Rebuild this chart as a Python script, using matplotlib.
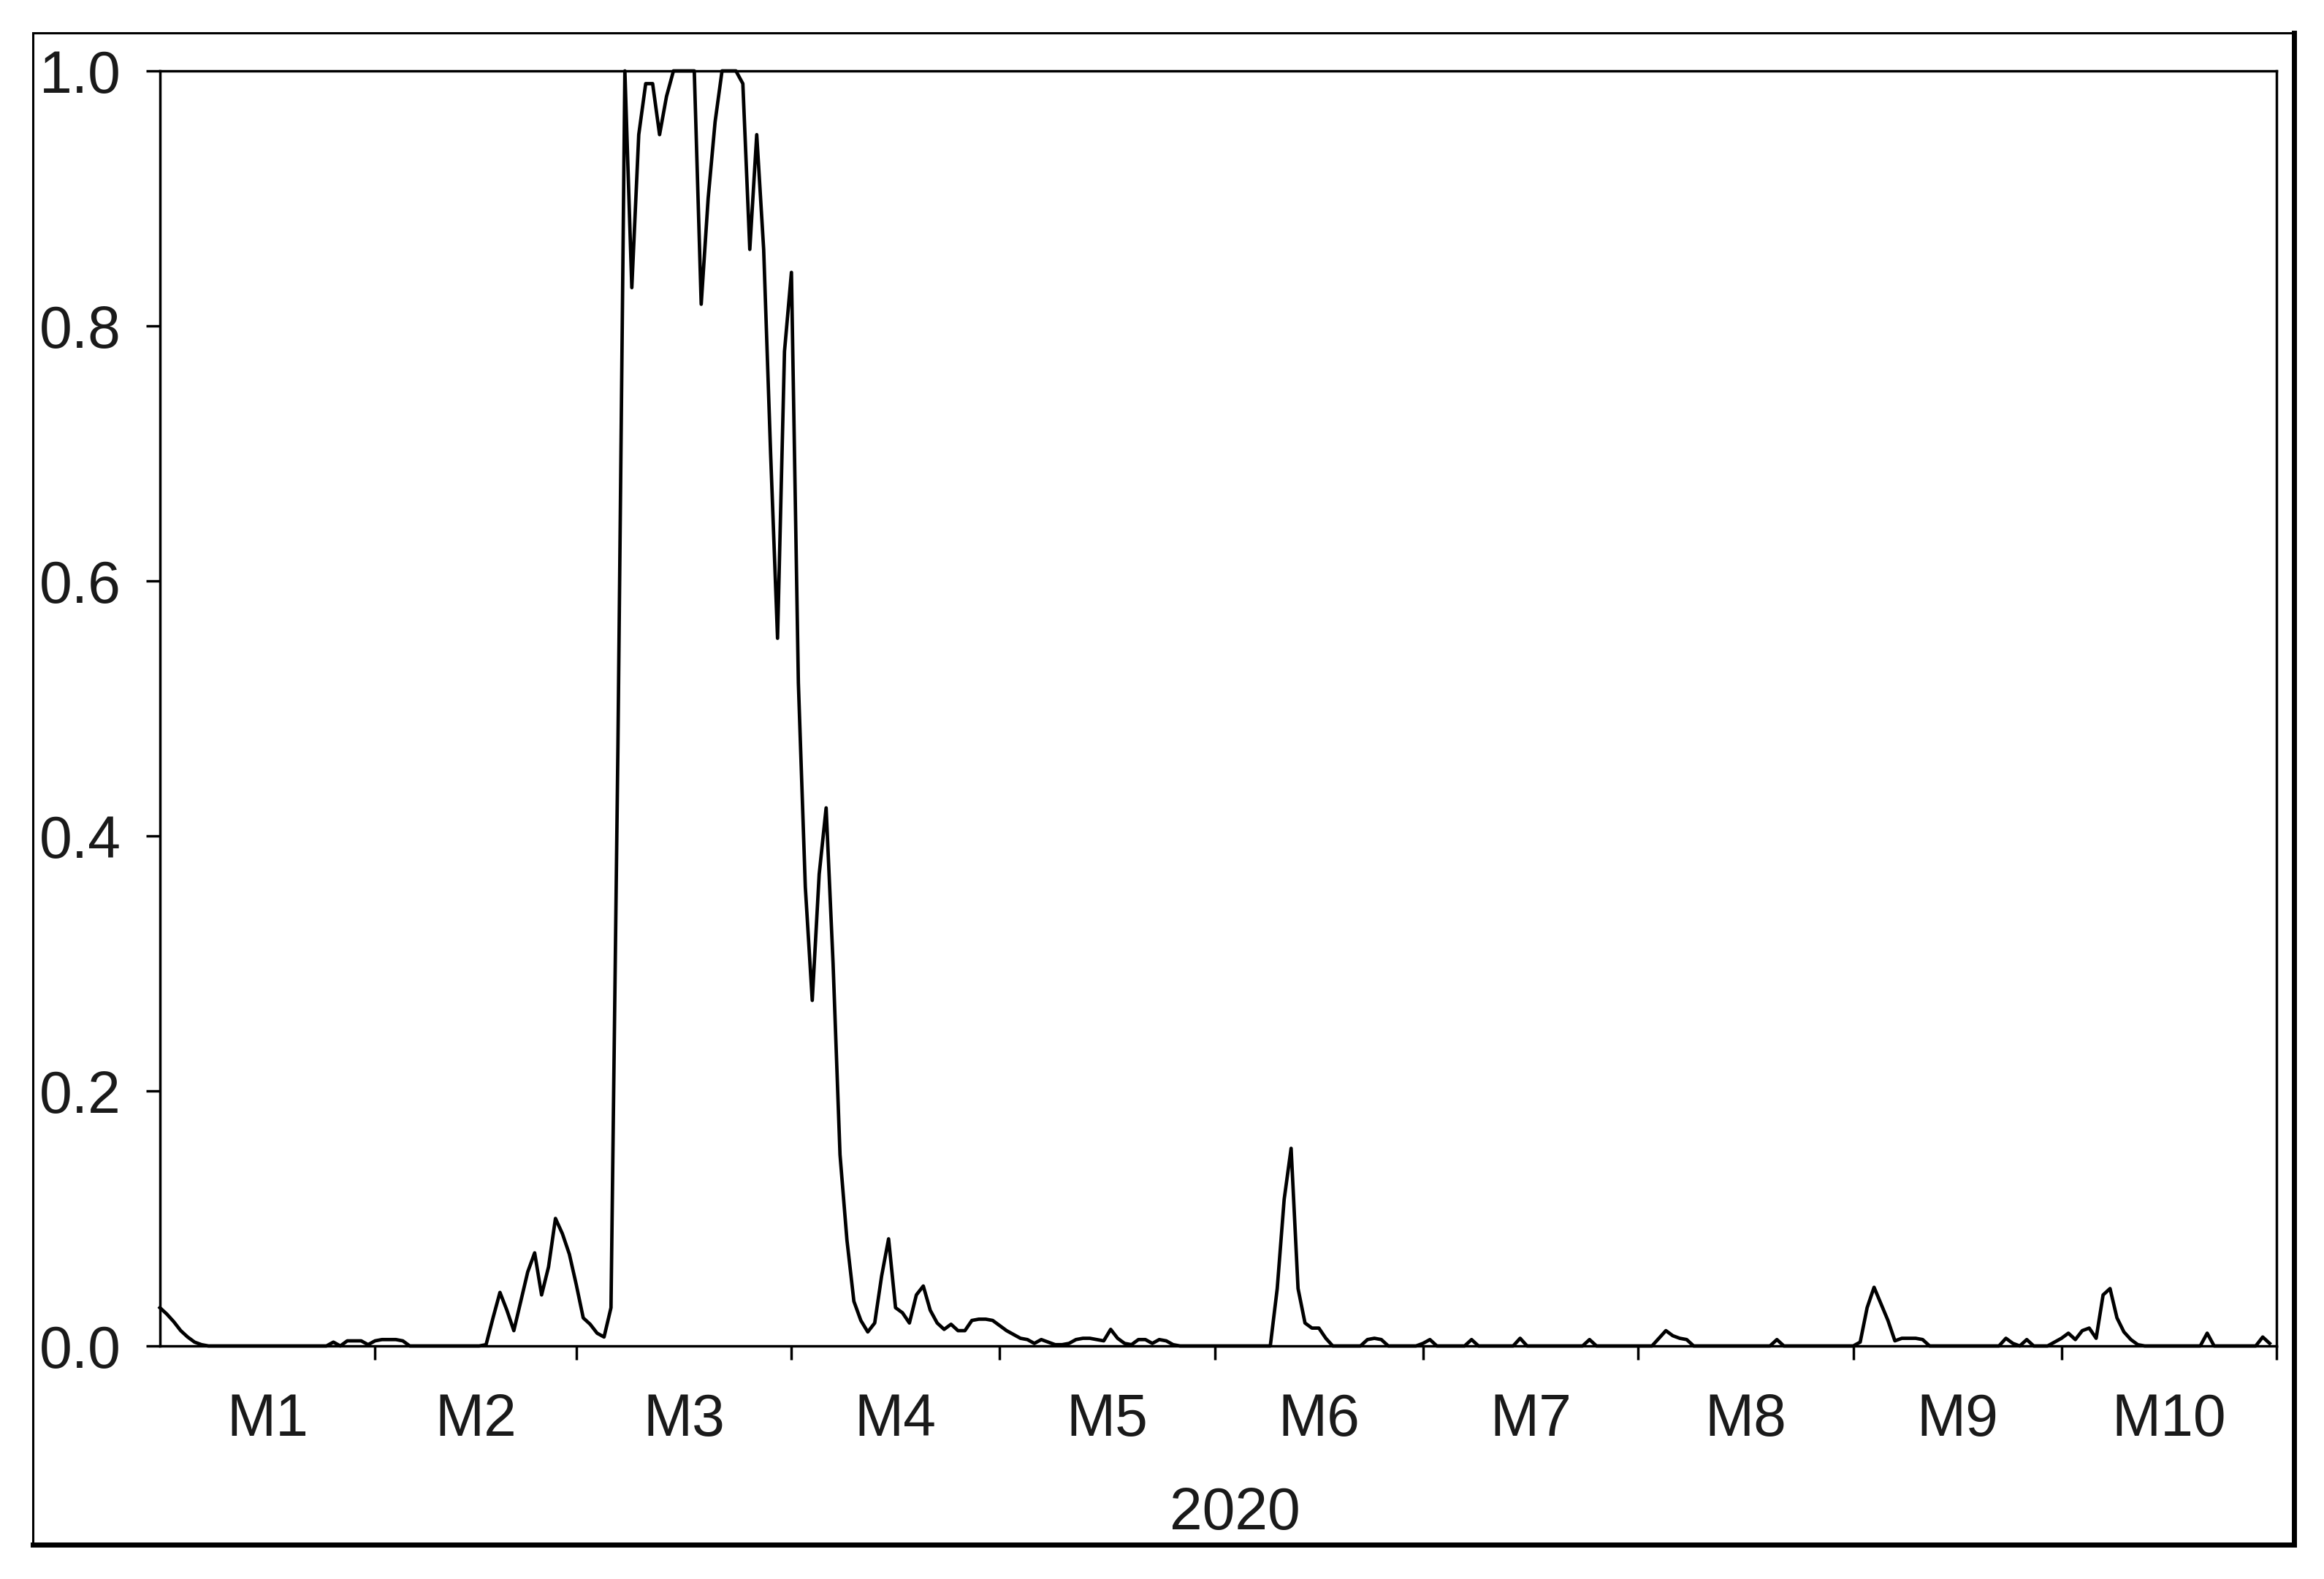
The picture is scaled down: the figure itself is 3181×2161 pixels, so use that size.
import pandas as pd
import matplotlib.pyplot as plt
import matplotlib.dates as mdates
from matplotlib.ticker import FormatStrFormatter
from matplotlib.lines import Line2D
from matplotlib.patches import Rectangle

plt.rcParams['font.family'] = ['Liberation Sans', 'DejaVu Sans']

# daily smoothed regime probability, 2020-01-01 .. 2020-10-31
jan = [0.030, 0.025, 0.019, 0.012, 0.007, 0.003, 0.001, 0, 0, 0,
       0, 0, 0, 0, 0, 0, 0, 0, 0, 0,
       0, 0, 0, 0, 0, 0.003, 0, 0.004, 0.004, 0.004,
       0.001]
feb = [0.004, 0.005, 0.005, 0.005, 0.004, 0, 0, 0, 0, 0,
       0, 0, 0, 0, 0, 0, 0.001, 0.022, 0.042, 0.028,
       0.012, 0.035, 0.058, 0.073, 0.040, 0.062, 0.100, 0.088, 0.072]
mar = [0.048, 0.022, 0.017, 0.010, 0.007, 0.030, 0.470, 1.000, 0.830, 0.950,
       0.990, 0.990, 0.950, 0.980, 1.000, 1.000, 1.000, 1.000, 0.817, 0.900,
       0.960, 1.000, 1.000, 1.000, 0.990, 0.860, 0.950, 0.860, 0.700, 0.555,
       0.780]
apr = [0.842, 0.520, 0.360, 0.271, 0.370, 0.422, 0.300, 0.150, 0.083, 0.035,
       0.020, 0.011, 0.018, 0.055, 0.084, 0.030, 0.026, 0.018, 0.040, 0.047,
       0.028, 0.018, 0.013, 0.017, 0.012, 0.012, 0.020, 0.021, 0.021, 0.020]
may = [0.016, 0.012, 0.009, 0.006, 0.005, 0.002, 0.005, 0.003, 0.001, 0.001,
       0.002, 0.005, 0.006, 0.006, 0.005, 0.004, 0.013, 0.006, 0.002, 0.001,
       0.005, 0.005, 0.002, 0.005, 0.004, 0.001, 0, 0, 0, 0,
       0]
jun = [0, 0, 0, 0, 0, 0, 0, 0, 0, 0.045,
       0.115, 0.155, 0.045, 0.018, 0.014, 0.014, 0.006, 0, 0, 0,
       0, 0, 0.005, 0.006, 0.005, 0, 0, 0, 0, 0]
jul = [0.002, 0.005, 0, 0, 0, 0, 0, 0.005, 0, 0,
       0, 0, 0, 0, 0.006, 0, 0, 0, 0, 0,
       0, 0, 0, 0, 0.005, 0, 0, 0, 0, 0,
       0]
aug = [0, 0, 0, 0.006, 0.012, 0.008, 0.006, 0.005, 0, 0,
       0, 0, 0, 0, 0, 0, 0, 0, 0, 0,
       0.005, 0, 0, 0, 0, 0, 0, 0, 0, 0,
       0]
sep = [0, 0.003, 0.030, 0.046, 0.033, 0.020, 0.004, 0.006, 0.006, 0.006,
       0.005, 0, 0, 0, 0, 0, 0, 0, 0, 0,
       0, 0, 0.006, 0.002, 0, 0.005, 0, 0, 0, 0.003]
oct = [0.006, 0.010, 0.005, 0.012, 0.014, 0.006, 0.040, 0.045, 0.022, 0.011,
       0.005, 0.001, 0, 0, 0, 0, 0, 0, 0, 0,
       0, 0.010, 0, 0, 0, 0, 0, 0, 0, 0.007,
       0.002]

month_labels = ['M1', 'M2', 'M3', 'M4', 'M5', 'M6', 'M7', 'M8', 'M9', 'M10']
y_ticks = [0.0, 0.2, 0.4, 0.6, 0.8, 1.0]

prob = jan + feb + mar + apr + may + jun + jul + aug + sep + oct
dates = pd.date_range('2020-01-01', periods=len(prob), freq='D')

fig = plt.figure(figsize=(31.81, 21.61), dpi=100)
ax = fig.add_axes([0.0688, 0.1476, 0.9108, 0.8075])

ax.plot(dates, prob, color='black', lw=3.4, clip_on=False)

ax.set_xlim(pd.Timestamp('2020-01-01'), pd.Timestamp('2020-11-01'))
ax.set_ylim(0, 1)
ax.set_yticks(y_ticks)
ax.yaxis.set_major_formatter(FormatStrFormatter('%.1f'))

# month boundaries get the tick marks, labels sit in the middle of each month
ax.xaxis.set_major_locator(mdates.MonthLocator(bymonth=range(2, 12)))
ax.xaxis.set_major_formatter(plt.NullFormatter())
starts = pd.date_range('2020-01-01', periods=11, freq='MS')
mids = [s + (e - s) / 2 for s, e in zip(starts[:-1], starts[1:])]
ax.set_xticks(mdates.date2num(mids), minor=True)
ax.set_xticklabels(month_labels, minor=True)

ax.tick_params(axis='x', which='minor', length=0, pad=46, labelsize=58, labelcolor='#1a1a1a')
ax.tick_params(axis='x', which='major', length=14, width=2.5, direction='out')
ax.tick_params(axis='y', length=14, width=2.5, pad=24, labelsize=58, labelcolor='#1a1a1a')

for s in ax.spines.values():
    s.set_linewidth(2.5)

fig.text(1690 / 3181, 1 - 2072 / 2161, '2020', ha='center', va='center',
         fontsize=58, color='#1a1a1a')

# outer border of the picture
fig.add_artist(Rectangle((0.01415, 0.02175), 0.97295, 0.95745, transform=fig.transFigure,
                         fill=False, lw=2.2, ec='black'))
fig.add_artist(Line2D([0.9871, 0.9871], [0.02175, 0.9792], transform=fig.transFigure,
                      color='black', lw=5))
fig.add_artist(Line2D([0.01415, 0.9871], [0.02175, 0.02175], transform=fig.transFigure,
                      color='black', lw=5))

fig.savefig('out.png', dpi=100, facecolor='white')
